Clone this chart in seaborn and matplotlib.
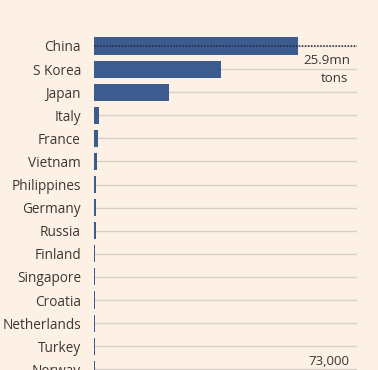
import matplotlib
matplotlib.use("Agg")
import matplotlib.pyplot as plt
import seaborn as sns
import pandas as pd

# Shipbuilding output, mn tons
countries = ["China", "S Korea", "Japan", "Italy", "France", "Vietnam", "Philippines",
             "Germany", "Russia", "Finland", "Singapore", "Croatia", "Netherlands",
             "Turkey", "Norway"]
tons_mn = [25.9, 16.1, 9.5, 0.67, 0.55, 0.38, 0.30, 0.25, 0.20, 0.19, 0.15,
           0.11, 0.10, 0.09, 0.073]

BG = "#fdf1e6"
BAR = "#3c5b8e"
GRID = "#d8d0c7"
TXT = "#3a3734"

sns.set_style("white")
plt.rcParams["font.family"] = ["Open Sans", "DejaVu Sans"]

df = pd.DataFrame({"country": countries, "tons": tons_mn})

fig = plt.figure(figsize=(3.78, 3.70), dpi=100, facecolor=BG)
ax = fig.add_axes([94 / 378, 0, (357 - 94) / 378, 1])
ax.set_facecolor(BG)

# horizontal rule for every row
ax.hlines(range(len(countries)), 0, 33.4, color=GRID, lw=1, zorder=0)

sns.barplot(data=df, y="country", x="tons", orient="h", color=BAR,
            saturation=1, width=0.74, linewidth=0, ax=ax, zorder=2)

# dotted line through the leader
ax.hlines(0, 0, 33.4, color="#1f2a3a", lw=1.1, linestyles=(0, (1, 1)), zorder=3)

ax.text(32.5, 0.61, "25.9mn", ha="right", va="center", fontsize=9.5, color=TXT)
ax.text(32.3, 1.39, "tons", ha="right", va="center", fontsize=9.5, color=TXT)
ax.text(32.5, 13.68, "73,000", ha="right", va="center", fontsize=9.5, color=TXT)

ax.set_xlim(0, 33.4)
ax.set_ylim(14.03, -1.99)
ax.set_xlabel("")
ax.set_ylabel("")
ax.set_xticks([])
ax.tick_params(axis="y", length=0, pad=9.4, labelsize=9.8, labelcolor=TXT)
for s in ax.spines.values():
    s.set_visible(False)

fig.savefig("out.png", dpi=100, facecolor=BG)
